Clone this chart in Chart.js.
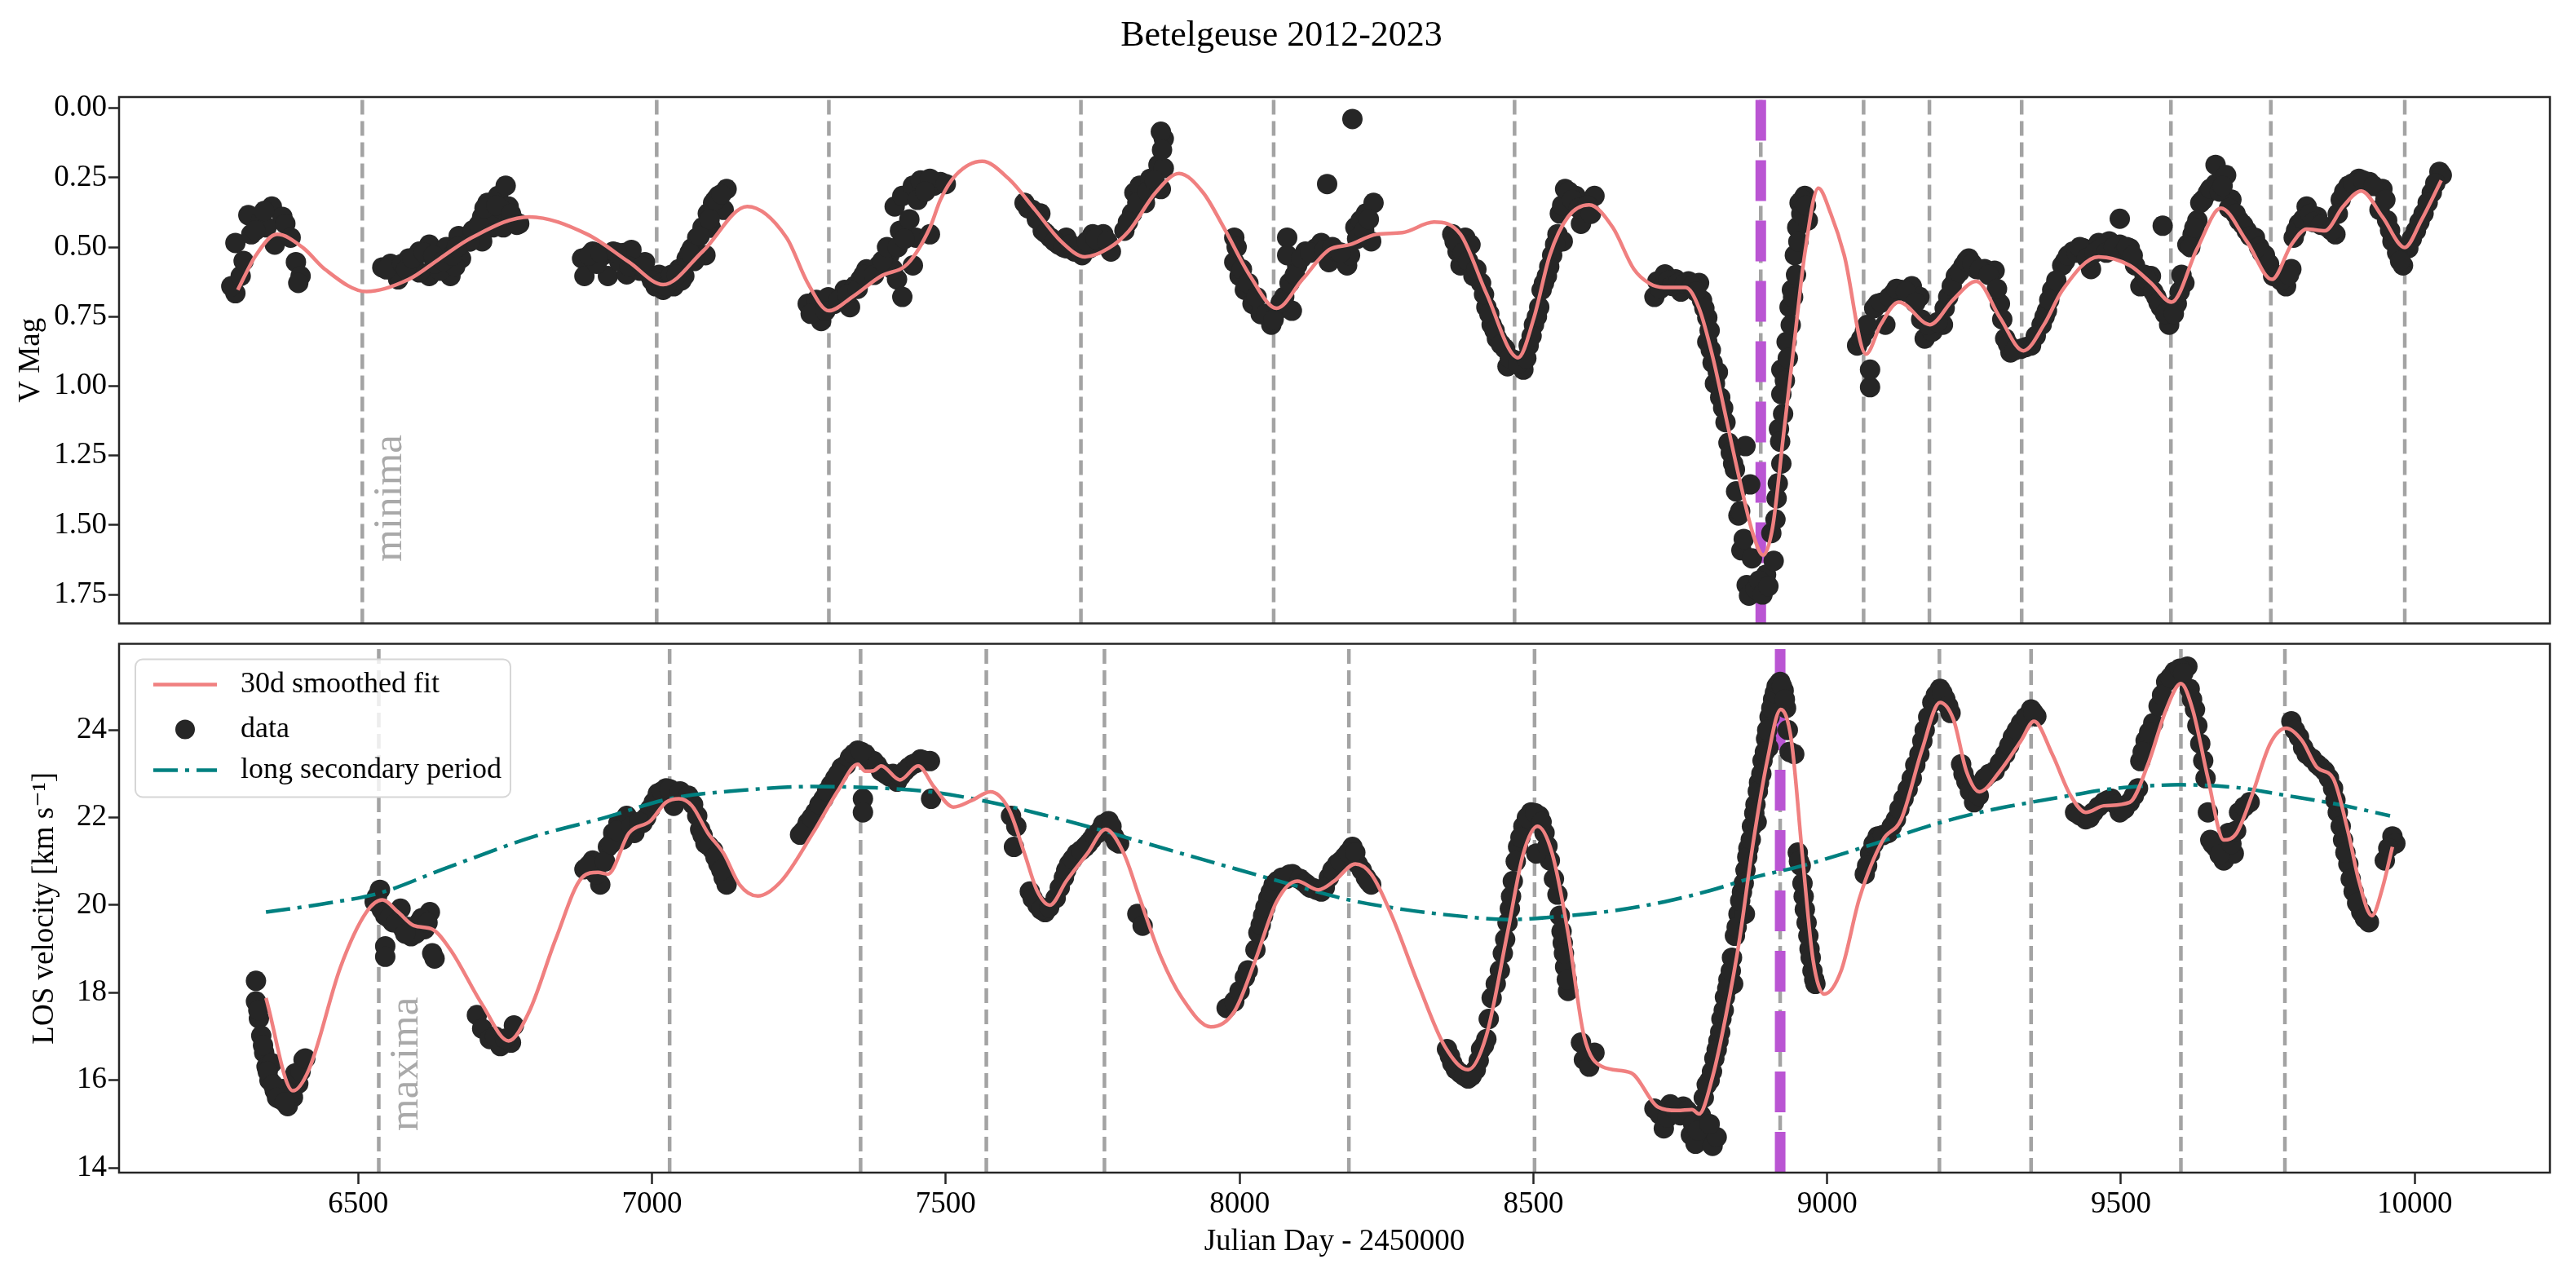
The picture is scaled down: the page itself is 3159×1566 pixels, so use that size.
<!DOCTYPE html>
<html>
<head>
<meta charset="utf-8">
<script src="https://cdn.jsdelivr.net/npm/chart.js@4.4.0/dist/chart.umd.min.js"></script>
<style>
html, body { margin: 0; padding: 0; background: #fff; }
#wrap { position: relative; width: 3159px; height: 1566px; }
canvas { position: absolute; left: 0; }
#top { top: 0; }
#bot { top: 777px; }
</style>
</head>
<body>
<div id="wrap">
  <canvas id="top" width="3159" height="777"></canvas>
  <canvas id="bot" width="3159" height="789"></canvas>
</div>
<script>
// --- valeurs ---
const jdTicks = [6500, 7000, 7500, 8000, 8500, 9000, 9500, 10000];
const magTicks = [0, 0.25, 0.5, 0.75, 1, 1.25, 1.5, 1.75];
const velTicks = [14, 16, 18, 20, 22, 24];

// minima (panneau V) et maxima (panneau vitesse), traits gris
const minimaJD = [6507, 7008, 7301, 7730, 8058, 8468, 8887, 9062, 9174, 9331, 9585, 9755, 9983];
const maximaJD = [6535, 7030, 7355, 7569, 7770, 8186, 8502, 8920, 9191, 9347, 9602, 9779];
const dimmingTop = 8887;
const dimmingBot = 8920;

// courbe lissée 30 j, magnitude V
const vFitJD = [6295, 6326, 6362, 6407, 6443, 6514, 6586, 6639, 6693, 6791, 6890, 6961, 7019, 7086, 7162, 7229, 7265, 7301, 7341, 7390,
  7435, 7473, 7491, 7517, 7562, 7607, 7652, 7696, 7737, 7777, 7812, 7857, 7897, 7938, 7973, 8018, 8063, 8107, 8152, 8188,
  8233, 8277, 8331, 8376, 8420, 8474, 8501, 8528, 8559, 8595, 8635, 8671, 8697, 8722, 8759, 8782, 8805, 8828, 8851, 8874,
  8891, 8907, 8925, 8944, 8962, 8985, 9006, 9029, 9066, 9091, 9122, 9175, 9214, 9254, 9294, 9334, 9369, 9400, 9462, 9515,
  9551, 9586, 9630, 9670, 9714, 9757, 9790, 9816, 9847, 9878, 9909, 9945, 9983, 10011, 10045];
const vFitMag = [0.654, 0.529, 0.454, 0.504, 0.579, 0.66, 0.616, 0.541, 0.466, 0.391, 0.454, 0.554, 0.635, 0.516, 0.354, 0.466, 0.629, 0.729, 0.679, 0.604,
  0.56, 0.43, 0.329, 0.241, 0.191, 0.254, 0.366, 0.479, 0.535, 0.504, 0.441, 0.304, 0.235, 0.304, 0.429, 0.604, 0.72, 0.616, 0.51, 0.491,
  0.454, 0.448, 0.41, 0.454, 0.666, 0.898, 0.754, 0.529, 0.391, 0.348, 0.429, 0.579, 0.63, 0.645, 0.645, 0.72, 0.893, 1.115, 1.337, 1.534,
  1.608, 1.51, 1.189, 0.844, 0.522, 0.288, 0.379, 0.529, 0.885, 0.779, 0.698, 0.779, 0.69, 0.623, 0.754, 0.873, 0.779, 0.656, 0.535, 0.566,
  0.629, 0.698, 0.504, 0.36, 0.479, 0.616, 0.491, 0.435, 0.441, 0.354, 0.298, 0.391, 0.501, 0.404, 0.26];

// mesures, magnitude V
const vObsJD = [6291, 6284, 6300, 6291, 6318, 6313, 6335, 6353, 6371, 6358, 6344, 6376, 6394, 6402, 6398, 6385, 6305, 6325, 6340,
  6541, 6568, 6586, 6604, 6621, 6621, 6639, 6657, 6671, 6675, 6568, 6604, 6639, 6555, 6595, 6630, 6650, 6665,
  6702, 6711, 6720, 6729, 6738, 6751, 6765, 6756, 6747, 6774, 6711, 6690, 6725, 6742,
  6881, 6885, 6899, 6917, 6925, 6934, 6952, 6957, 6970, 6979, 6988, 6997, 7006, 7019, 7028, 7037, 7046, 7059, 7068, 7077,
  7086, 7095, 7104, 7113, 7127, 7122, 7091, 7055, 6906, 6944, 6965, 7012, 7050, 7072, 7100,
  7265, 7288, 7288, 7310, 7328, 7337, 7355, 7372, 7386, 7404, 7417, 7426, 7422, 7413, 7426, 7444, 7457, 7449, 7444, 7480,
  7280, 7300, 7345, 7365, 7395, 7410,
  7473, 7491, 7473, 7500,
  7634, 7647, 7661, 7665, 7678, 7692, 7705, 7719, 7732, 7745, 7759, 7768, 7781, 7705, 7750,
  7804, 7817, 7821, 7830, 7839, 7848, 7862, 7866, 7871, 7866, 7871,
  7991, 7991, 8000, 8009, 8022, 8036, 8054, 8063, 8076, 8089, 8085, 8098, 8081, 8081, 8112, 8130, 8139, 8152, 8165, 8183,
  8188, 8197, 8206, 8215, 8228, 8224,
  8192, 8149,
  8362, 8371, 8376, 8384, 8393, 8398, 8411, 8420, 8429, 8438, 8452, 8465, 8483, 8492, 8501, 8510, 8514, 8523, 8532, 8541,
  8545, 8554, 8572, 8586, 8581, 8604, 8550, 8456,
  8706, 8711, 8724, 8742, 8751, 8764, 8782, 8787, 8796, 8796, 8805, 8809, 8818, 8823, 8832, 8840, 8845, 8849, 8854, 8863, 8867,
  8869, 8861, 8878, 8896, 8909, 8905, 8914, 8922, 8918, 8922, 8922, 8931, 8936, 8940, 8945, 8949, 8953, 8962, 8967,
  9051, 9064, 9073, 9073, 9086, 9099, 9113, 9126, 9144, 9157, 9166, 9179, 9197, 9206, 9219, 9232, 9241, 9254, 9268, 9285,
  9294, 9303, 9312, 9330, 9347, 9365, 9374, 9383,
  9400, 9418, 9436, 9449, 9462, 9480, 9498, 9515, 9524, 9533, 9551, 9560, 9568, 9582, 9595, 9608, 9613, 9622, 9630, 9635,
  9648, 9661, 9661, 9679, 9688, 9701, 9714, 9728, 9745, 9759, 9781, 9790, 9794, 9803, 9816, 9834, 9852, 9865, 9874, 9887,
  9905, 9923, 9945, 9940, 9953, 9962, 9980, 9989, 10002, 10015, 10029, 10042, 10046,
  9498, 9571,
  7270, 7295, 7318, 7332, 7350, 7360, 7378, 7392, 7400, 7418, 7430, 7438, 7452, 7465,
  7640, 7655, 7670, 7685, 7700, 7712, 7725, 7740, 7755, 7775,
  7810, 7826, 7843, 7855, 7868,
  7995, 8004, 8015, 8029, 8045, 8058, 8070, 8094, 8105, 8120, 8145, 8158, 8172, 8200, 8212, 8220,
  8366, 8380, 8389, 8403, 8416, 8425, 8434, 8445, 8460, 8474, 8488, 8497, 8506, 8518, 8527, 8537, 8549, 8560, 8566, 8577, 8592, 8598,
  8716, 8730, 8736, 8746, 8758, 8770, 8777, 8791, 8800, 8802, 8814, 8827, 8836, 8843, 8852, 8858, 8872, 8884, 8890, 8900,
  8912, 8916, 8920, 8925, 8928, 8933, 8938, 8942, 8947, 8951, 8956, 8958, 8964,
  9058, 9068, 9080, 9092, 9106, 9118, 9134, 9150, 9160, 9172, 9188, 9200, 9212, 9225, 9237, 9247, 9260, 9275, 9289, 9298,
  9308, 9320, 9338, 9355, 9370, 9378, 9390,
  9405, 9410, 9425, 9430, 9442, 9455, 9468, 9475, 9488, 9505, 9510, 9520, 9540, 9545, 9555, 9564, 9575, 9590, 9600, 9603,
  9618, 9625, 9640, 9652, 9668, 9673, 9684, 9695, 9708, 9720, 9735, 9740, 9752, 9765, 9772,
  9786, 9798, 9810, 9822, 9828, 9840, 9858, 9869, 9880, 9895, 9912, 9930, 9950, 9958, 9970, 9975, 9995, 10008, 10022, 10035,
  6893, 6912, 6940, 6962, 6983, 7000, 7015, 7024, 7033, 7042, 7064, 7081, 7098, 7108, 7118,
  6548, 6575, 6582, 6592, 6612, 6628, 6645, 6660, 6668,
  6695, 6705, 6715, 6735, 6760, 6770];
const vObsMag = [0.666, 0.641, 0.604, 0.485, 0.454, 0.385, 0.404, 0.354, 0.391, 0.491, 0.429, 0.416, 0.554, 0.604, 0.629, 0.466, 0.55, 0.44, 0.37,
  0.573, 0.579, 0.541, 0.516, 0.491, 0.604, 0.529, 0.604, 0.46, 0.541, 0.616, 0.591, 0.585, 0.56, 0.57, 0.56, 0.5, 0.57,
  0.466, 0.391, 0.341, 0.429, 0.316, 0.279, 0.404, 0.354, 0.429, 0.416, 0.479, 0.48, 0.38, 0.36,
  0.541, 0.604, 0.516, 0.529, 0.604, 0.516, 0.521, 0.598, 0.554, 0.585, 0.554, 0.604, 0.641, 0.654, 0.616, 0.641, 0.579, 0.541, 0.504, 0.466,
  0.429, 0.379, 0.341, 0.316, 0.291, 0.366, 0.529, 0.604, 0.56, 0.55, 0.51, 0.6, 0.62, 0.55, 0.43,
  0.704, 0.766, 0.716, 0.704, 0.654, 0.716, 0.616, 0.591, 0.566, 0.529, 0.616, 0.679, 0.441, 0.354, 0.316, 0.279, 0.26, 0.466, 0.566, 0.279,
  0.69, 0.68, 0.64, 0.58, 0.56, 0.58,
  0.454, 0.266, 0.254, 0.273,
  0.341, 0.366, 0.379, 0.441, 0.466, 0.491, 0.504, 0.516, 0.529, 0.504, 0.491, 0.454, 0.516, 0.466, 0.454,
  0.441, 0.379, 0.304, 0.279, 0.341, 0.254, 0.204, 0.291, 0.11, 0.085, 0.216,
  0.466, 0.554, 0.604, 0.654, 0.704, 0.741, 0.779, 0.729, 0.679, 0.729, 0.629, 0.566, 0.466, 0.529, 0.516, 0.504, 0.485, 0.554, 0.516, 0.566,
  0.529, 0.429, 0.404, 0.379, 0.341, 0.479,
  0.039, 0.273,
  0.454, 0.516, 0.566, 0.466, 0.491, 0.604, 0.629, 0.716, 0.779, 0.829, 0.866, 0.904, 0.941, 0.854, 0.779, 0.716, 0.654, 0.604, 0.529, 0.454,
  0.379, 0.291, 0.316, 0.379, 0.416, 0.316, 0.479, 0.929,
  0.679, 0.623, 0.598, 0.616, 0.66, 0.623, 0.629, 0.691, 0.754, 0.841, 0.916, 0.991, 1.041, 1.079, 1.204, 1.279, 1.379, 1.466, 1.591, 1.716, 1.754,
  1.354, 1.216, 1.729, 1.679, 1.629, 1.529, 1.404, 1.279, 1.154, 1.029, 0.941, 0.841, 0.716, 0.654, 0.529, 0.429, 0.341, 0.316, 0.404,
  0.854, 0.804, 1.004, 0.941, 0.704, 0.779, 0.666, 0.654, 0.641, 0.679, 0.829, 0.804, 0.779, 0.679, 0.604, 0.566, 0.541, 0.579, 0.579, 0.585,
  0.704, 0.829, 0.879, 0.866, 0.854, 0.779, 0.729, 0.654,
  0.566, 0.516, 0.504, 0.579, 0.485, 0.479, 0.491, 0.504, 0.566, 0.641, 0.604, 0.679, 0.716, 0.779, 0.704, 0.629, 0.491, 0.454, 0.404, 0.341,
  0.304, 0.273, 0.204, 0.241, 0.329, 0.404, 0.441, 0.466, 0.529, 0.604, 0.641, 0.579, 0.466, 0.416, 0.354, 0.391, 0.429, 0.454, 0.329, 0.279,
  0.254, 0.266, 0.291, 0.366, 0.404, 0.479, 0.566, 0.504, 0.441, 0.379, 0.304, 0.229, 0.241,
  0.398, 0.423,
  0.74, 0.73, 0.69, 0.67, 0.65, 0.6, 0.6, 0.55, 0.5, 0.5, 0.47, 0.4, 0.33, 0.3,
  0.36, 0.4, 0.45, 0.48, 0.5, 0.49, 0.5, 0.48, 0.47, 0.48,
  0.41, 0.34, 0.3, 0.26, 0.15,
  0.5, 0.58, 0.63, 0.68, 0.74, 0.76, 0.7, 0.6, 0.54, 0.52, 0.51, 0.5, 0.52, 0.47, 0.44, 0.4,
  0.48, 0.52, 0.55, 0.58, 0.67, 0.74, 0.8, 0.85, 0.9, 0.92, 0.9, 0.82, 0.75, 0.63, 0.57, 0.49, 0.35, 0.3, 0.33, 0.36, 0.35, 0.38,
  0.65, 0.62, 0.64, 0.63, 0.63, 0.64, 0.66, 0.72, 0.8, 0.87, 0.95, 1.13, 1.24, 1.3, 1.45, 1.55, 1.62, 1.7, 1.75, 1.72,
  1.48, 1.35, 1.2, 1.1, 0.98, 0.9, 0.78, 0.68, 0.6, 0.48, 0.38, 0.33, 0.35,
  0.83, 0.78, 0.72, 0.7, 0.68, 0.65, 0.66, 0.7, 0.76, 0.78, 0.77, 0.72, 0.64, 0.59, 0.55, 0.56, 0.58, 0.6, 0.65, 0.76,
  0.85, 0.87, 0.86, 0.82, 0.75, 0.69, 0.62,
  0.55, 0.53, 0.52, 0.5, 0.54, 0.52, 0.5, 0.52, 0.5, 0.52, 0.5, 0.53, 0.6, 0.62, 0.66, 0.7, 0.74, 0.74, 0.66, 0.6,
  0.5, 0.43, 0.33, 0.29, 0.3, 0.28, 0.36, 0.38, 0.42, 0.46, 0.5, 0.52, 0.56, 0.6, 0.62,
  0.6, 0.44, 0.4, 0.38, 0.41, 0.42, 0.44, 0.38, 0.3, 0.27, 0.26, 0.28, 0.33, 0.44, 0.52, 0.55, 0.47, 0.41, 0.34, 0.27,
  0.53, 0.52, 0.52, 0.57, 0.57, 0.62, 0.63, 0.64, 0.6, 0.6, 0.52, 0.46, 0.4, 0.33, 0.31,
  0.58, 0.56, 0.58, 0.54, 0.52, 0.53, 0.55, 0.53, 0.5,
  0.44, 0.42, 0.36, 0.35, 0.38, 0.42];

// courbe lissée 30 j, vitesse radiale
const rvFitJD = [6343, 6389, 6416, 6470, 6514, 6541, 6568, 6595, 6626, 6657, 6711, 6756, 6791, 6836, 6881, 6908, 6925, 6961, 6997, 7024,
  7046, 7068, 7095, 7122, 7149, 7180, 7220, 7274, 7319, 7350, 7363, 7377, 7390, 7422, 7453, 7480, 7513, 7544, 7576, 7607,
  7634, 7656, 7677, 7705, 7741, 7772, 7803, 7830, 7866, 7902, 7951, 7991, 8027, 8063, 8098, 8134, 8161, 8197, 8224, 8259,
  8304, 8349, 8389, 8420, 8456, 8483, 8507, 8532, 8559, 8586, 8617, 8666, 8712, 8745, 8770, 8782, 8805, 8828, 8851, 8874,
  8898, 8921, 8939, 8958, 8976, 8995, 9024, 9055, 9095, 9126, 9161, 9192, 9215, 9237, 9259, 9294, 9330, 9352, 9383, 9414,
  9440, 9471, 9515, 9546, 9577, 9602, 9622, 9648, 9675, 9697, 9723, 9754, 9781, 9808, 9834, 9861, 9887, 9905, 9927, 9945, 9962];
const rvFitV = [17.88, 15.76, 16.24, 18.59, 19.84, 20.12, 19.84, 19.53, 19.45, 18.98, 17.73, 16.9, 17.57, 19.22, 20.63, 20.75, 20.71, 21.65, 21.92, 22.35,
  22.43, 22.27, 21.65, 21.18, 20.47, 20.21, 20.55, 21.65, 22.67, 23.22, 23.06, 23.07, 23.18, 22.86, 23.18, 22.7, 22.24, 22.39, 22.59, 22.2,
  21.18, 20.31, 20.0, 20.55, 21.18, 21.73, 21.18, 20.16, 18.82, 17.88, 17.22, 17.57, 18.75, 20.08, 20.55, 20.35, 20.55, 20.94, 20.71, 19.76,
  18.2, 16.78, 16.24, 17.02, 19.37, 21.18, 21.8, 21.18, 19.37, 17.02, 16.31, 16.17, 15.39, 15.31, 15.33, 15.23, 16.08, 17.5, 19.23, 21.42,
  23.3, 24.47, 23.77, 21.11, 18.75, 17.97, 18.51, 20.16, 21.49, 21.96, 23.53, 24.63, 24.24, 23.06, 22.59, 23.06, 23.76, 24.2, 23.45, 22.51,
  22.12, 22.27, 22.35, 23.22, 24.47, 25.06, 24.47, 22.9, 21.49, 21.65, 22.51, 23.69, 24.04, 23.76, 23.14, 22.9, 21.65, 20.55, 19.76, 20.39, 21.33];

// mesures, vitesse radiale
const rvObsJD = [6326, 6326, 6331, 6335, 6340, 6344, 6349, 6358, 6367, 6380, 6389, 6398, 6407, 6393, 6353, 6372, 6385,
  6528, 6537, 6546, 6546, 6546, 6559, 6572, 6577, 6590, 6604, 6622, 6626, 6630, 6613, 6585, 6598,
  6702, 6711, 6724, 6742, 6760, 6765, 6733, 6750,
  6885, 6899, 6912, 6925, 6934, 6943, 6957, 6970, 6984, 6997, 7010, 7024, 7042, 7055, 7037, 7077, 7082, 7091, 7104, 7113,
  7122, 7127, 6905, 6950, 6990,
  7252, 7265, 7278, 7292, 7305, 7323, 7337, 7350, 7363, 7377, 7390, 7404, 7417, 7430, 7444, 7457, 7359, 7359, 7475, 7330,
  7370, 7410, 7473,
  7611, 7620, 7616,
  7643, 7656, 7669, 7687, 7701, 7710, 7723, 7737, 7759, 7777, 7786, 7795, 7748, 7768,
  7826, 7835,
  7978, 7991, 8000, 8009, 8014,
  8027, 8032, 8040, 8049, 8058, 8072, 8090, 8107, 8125, 8139, 8152, 8166, 8179, 8192, 8201, 8215, 8224, 8080, 8098, 8116,
  8353, 8362, 8376, 8389, 8402, 8411, 8420,
  8429, 8443, 8452, 8460, 8465, 8474, 8483, 8496, 8510, 8519, 8528, 8541, 8545, 8550, 8554, 8559, 8505,
  8581, 8586, 8595, 8604,
  8706, 8715, 8722, 8733, 8745, 8755, 8768, 8776, 8785, 8795, 8805, 8812, 8790, 8800, 8808, 8815, 8820, 8826, 8832, 8838,
  8843, 8849, 8855, 8861, 8866, 8872, 8878, 8884, 8890, 8896, 8902, 8908, 8914, 8920, 8926, 8930, 8936, 8944, 8950, 8955,
  8960, 8965, 8970, 8975, 8980, 8840, 8860, 8880, 8900,
  9064, 9073, 9086, 9104, 9117, 9130, 9144, 9157, 9166, 9179, 9192, 9201, 9210,
  9228, 9237, 9250, 9268, 9285, 9303, 9316, 9330, 9347, 9356,
  9422, 9440, 9453, 9471, 9484, 9498, 9515, 9529, 9533, 9542, 9555,
  9564, 9577, 9591, 9613, 9617, 9626, 9635, 9644, 9648,
  9652, 9661, 9675, 9692, 9701, 9719, 9683,
  9790, 9803, 9816, 9834, 9847, 9861, 9869, 9878, 9887, 9896, 9909, 9922, 9949, 9962, 9967,
  6330, 6338, 6346, 6355, 6362, 6375, 6402, 6410,
  6532, 6540, 6553, 6565, 6580, 6608, 6618,
  6892, 6920, 6930, 6940, 6965, 6978, 7003, 7017, 7030, 7048, 7062, 7070, 7086, 7097, 7108, 7118,
  7258, 7272, 7285, 7298, 7312, 7317, 7343, 7356, 7383, 7397, 7423, 7437, 7450, 7463,
  7648, 7662, 7676, 7694, 7705, 7716, 7730, 7742, 7753, 7765, 7782, 7790,
  8036, 8044, 8053, 8064, 8085, 8103, 8112, 8120, 8131, 8145, 8158, 8172, 8185, 8197, 8208, 8219,
  8358, 8368, 8382, 8395, 8407, 8416, 8424, 8436, 8448, 8456, 8462, 8470, 8478, 8489, 8503, 8514, 8524, 8535, 8548, 8552, 8557,
  8712, 8728, 8740, 8750, 8762, 8772, 8780, 8800, 8795, 8804, 8812, 8818, 8824, 8830, 8836, 8846, 8852, 8858, 8864, 8870,
  8876, 8882, 8888, 8894, 8898, 8905, 8911, 8917, 8923, 8928, 8933, 8952, 8958, 8962, 8968, 8972, 8978,
  9068, 9079, 9095, 9110, 9123, 9137, 9150, 9162, 9172, 9185, 9196, 9206,
  9232, 9243, 9258, 9276, 9294, 9310, 9323, 9338, 9351,
  9430, 9447, 9462, 9478, 9491, 9506, 9522, 9537, 9548,
  9570, 9584, 9600, 9606, 9621, 9630, 9640,
  9656, 9668, 9688, 9696, 9710,
  9796, 9810, 9825, 9840, 9854, 9865, 9874, 9882, 9891, 9902, 9915, 9955];
const rvObsV = [18.27, 17.8, 17.41, 17.02, 16.63, 16.31, 16.0, 15.76, 15.57, 15.41, 15.61, 15.92, 16.47, 16.16, 16.39, 15.8, 15.7,
  20.08, 20.35, 19.76, 19.06, 18.82, 19.61, 19.92, 19.45, 19.29, 19.61, 19.84, 18.9, 18.78, 19.45, 19.5, 19.35,
  17.49, 17.18, 16.94, 16.78, 16.86, 17.25, 17.0, 16.95,
  20.82, 21.02, 20.47, 21.33, 21.65, 21.88, 22.04, 21.65, 21.88, 22.2, 22.55, 22.67, 22.59, 22.51, 22.27, 22.04, 21.73, 21.41, 21.25, 20.94,
  20.63, 20.47, 20.7, 21.5, 22.0,
  21.61, 21.88, 22.12, 22.43, 22.75, 23.14, 23.37, 23.53, 23.45, 23.29, 23.06, 22.94, 22.82, 23.06, 23.22, 23.33, 22.43, 22.12, 22.43, 23.2,
  23.3, 23.0, 23.29,
  22.04, 21.8, 21.33,
  20.31, 20.0, 19.84, 20.16, 20.63, 20.94, 21.18, 21.33, 21.65, 21.92, 21.57, 21.41, 21.5, 21.85,
  19.8, 19.53,
  17.65, 17.8, 18.04, 18.35, 18.51,
  18.98, 19.37, 19.76, 20.16, 20.47, 20.63, 20.71, 20.55, 20.39, 20.31, 20.63, 20.94, 21.1, 21.33, 20.94, 20.63, 20.47, 20.6, 20.62, 20.45,
  16.71, 16.39, 16.16, 16.04, 16.24, 16.71, 16.94,
  17.88, 18.51, 19.22, 19.92, 20.55, 21.33, 21.8, 22.12, 22.04, 21.65, 21.02, 20.24, 19.76, 19.14, 18.59, 18.04, 21.18,
  16.86, 16.47, 16.31, 16.63,
  15.35, 15.22, 14.9, 15.45, 15.25, 15.4, 14.75, 14.55, 15.2, 14.85, 14.5, 14.7, 15.6, 16.0, 16.5, 16.9, 17.4, 17.9, 18.3, 18.8,
  19.3, 19.8, 20.3, 20.8, 21.3, 21.8, 22.3, 22.8, 23.3, 23.8, 24.3, 24.7, 25.0, 25.1, 24.9, 24.5, 23.5, 23.45, 21.2, 20.9,
  20.2, 19.6, 19.0, 18.5, 18.2, 18.2, 19.8, 21.9, 23.6,
  20.71, 21.18, 21.57, 21.65, 21.96, 22.43, 22.9, 23.45, 24.0, 24.63, 24.94, 24.71, 24.39,
  23.22, 22.82, 22.35, 22.9, 23.06, 23.45, 23.84, 24.16, 24.47, 24.31,
  22.12, 21.96, 22.12, 22.35, 22.43, 22.12, 22.35, 22.67, 23.29, 23.76, 24.16,
  24.55, 25.1, 25.33, 25.45, 24.94, 24.47, 23.69, 22.9, 22.12,
  21.49, 21.33, 21.02, 21.18, 22.12, 22.35, 21.65,
  24.2, 23.84, 23.45, 23.22, 23.06, 22.67, 22.12, 21.49, 20.94, 20.31, 19.84, 19.61, 21.02, 21.57, 21.41,
  17.6, 16.8, 16.2, 15.9, 15.6, 15.5, 16.2, 16.5,
  20.2, 19.9, 19.7, 19.6, 19.35, 19.7, 19.6,
  20.9, 21.0, 21.4, 21.7, 21.8, 21.9, 22.35, 22.6, 22.65, 22.6, 22.5, 22.3, 21.6, 21.35, 21.1, 20.8,
  21.7, 22.0, 22.3, 22.6, 22.9, 23.0, 23.45, 23.5, 23.2, 23.0, 22.95, 23.15, 23.25, 23.3,
  20.15, 19.9, 19.95, 20.4, 20.8, 21.05, 21.25, 21.4, 21.6, 21.75, 21.8, 21.45,
  19.55, 19.95, 20.3, 20.55, 20.7, 20.6, 20.5, 20.4, 20.35, 20.4, 20.8, 21.0, 21.2, 21.2, 20.8, 20.55,
  16.55, 16.25, 16.1, 16.1, 16.45, 16.8, 17.4, 18.2, 18.9, 19.6, 20.2, 21.0, 21.55, 22.0, 22.1, 21.9, 21.35, 20.6, 19.4, 18.9, 18.3,
  15.3, 15.15, 15.35, 15.2, 15.3, 15.0, 14.85, 15.0, 15.9, 16.2, 16.7, 17.1, 17.6, 18.1, 18.5, 19.5, 20.1, 20.5, 21.1, 21.5,
  22.1, 22.6, 23.0, 23.5, 24.0, 24.5, 24.85, 25.05, 25.0, 24.7, 24.0, 21.0, 20.5, 19.9, 19.3, 18.8, 18.3,
  20.9, 21.4, 21.6, 21.8, 22.2, 22.65, 23.2, 23.75, 24.3, 24.8, 24.85, 24.55,
  23.0, 22.6, 22.5, 23.0, 23.25, 23.65, 24.0, 24.3, 24.4,
  22.05, 22.0, 22.25, 22.4, 22.3, 22.2, 22.5, 23.5, 23.95,
  24.8, 25.2, 25.4, 25.3, 24.7, 24.1, 23.3,
  21.4, 21.15, 21.4, 21.7, 22.25,
  24.0, 23.6, 23.35, 23.15, 22.9, 22.4, 21.8, 21.2, 20.6, 20.05, 19.7, 21.3];

// période secondaire longue
const lspJD = [6343, 6450, 6535, 6650, 6800, 6920, 7030, 7150, 7274, 7380, 7473, 7569, 7670, 7770, 7870, 7964, 8080, 8186, 8280, 8367,
  8456, 8545, 8640, 8724, 8800, 8874, 8958, 9080, 9191, 9270, 9347, 9420, 9480, 9540, 9602, 9701, 9779, 9870, 9958];
const lspV = [19.84, 20.05, 20.27, 20.85, 21.57, 22.0, 22.43, 22.62, 22.71, 22.68, 22.59, 22.37, 22.05, 21.69, 21.3, 20.94, 20.5, 20.12, 19.9, 19.76,
  19.67, 19.74, 19.88, 20.08, 20.33, 20.63, 20.9, 21.4, 21.88, 22.15, 22.35, 22.52, 22.65, 22.72, 22.75, 22.68, 22.51, 22.3, 22.04];

// --- styles ---
const FONT = "'Liberation Serif', 'DejaVu Serif', serif";
const X_MIN = 6093, X_MAX = 10230;
const PINK = '#f08080', DOT = '#262626', TEAL = '#008080', PURPLE = '#ba55d3', DASH = '#a3a3a3', INK = '#262626';

Chart.defaults.font.family = FONT;
Chart.defaults.color = '#000';

const pts = (xs, ys) => xs.map((x, i) => ({ x: x, y: ys[i] }));

// cadre noir autour de la zone de tracé
const frame = {
  id: 'frame',
  afterDraw(chart) {
    const { ctx, chartArea: a } = chart;
    ctx.save();
    ctx.strokeStyle = INK;
    ctx.lineWidth = 2.5;
    ctx.strokeRect(a.left, a.top, a.right - a.left, a.bottom - a.top);
    ctx.restore();
  }
};

// traits verticaux (gris) + grand minimum (violet)
const vlines = {
  id: 'vlines',
  beforeDatasetsDraw(chart, args, opts) {
    const { ctx, chartArea: a, scales: { x } } = chart;
    ctx.save();
    ctx.beginPath();
    ctx.rect(a.left, a.top, a.right - a.left, a.bottom - a.top);
    ctx.clip();
    const draw = (v, color, width, dash) => {
      const px = x.getPixelForValue(v);
      ctx.strokeStyle = color;
      ctx.lineWidth = width;
      ctx.setLineDash(dash);
      ctx.beginPath();
      ctx.moveTo(px, a.bottom);
      ctx.lineTo(px, a.top);
      ctx.stroke();
    };
    opts.lines.forEach(v => draw(v, DASH, 4.5, [18, 8]));
    draw(opts.event, PURPLE, 13, [50, 24]);
    ctx.restore();
  }
};

// texte vertical "minima" / "maxima"
const sideNote = {
  id: 'sideNote',
  beforeDatasetsDraw(chart, args, opts) {
    const { ctx, scales: { x, y } } = chart;
    ctx.save();
    ctx.translate(x.getPixelForValue(opts.at[0]), y.getPixelForValue(opts.at[1]));
    ctx.rotate(-Math.PI / 2);
    ctx.font = '51px ' + FONT;
    ctx.fillStyle = '#a9a9a9';
    ctx.textAlign = 'left';
    ctx.textBaseline = 'middle';
    ctx.fillText(opts.text, 0, 0);
    ctx.restore();
  }
};

// légende encadrée en haut à gauche du panneau du bas
const legendBox = {
  id: 'legendBox',
  afterDatasetsDraw(chart) {
    const { ctx, chartArea: a } = chart;
    const L = a.left + 20, T = a.top + 19, W = 460, H = 169;
    ctx.save();
    ctx.beginPath();
    ctx.roundRect(L, T, W, H, 9);
    ctx.fillStyle = 'rgba(255,255,255,0.8)';
    ctx.fill();
    ctx.strokeStyle = '#d6d6d6';
    ctx.lineWidth = 2;
    ctx.stroke();
    const rows = [T + 31, T + 86, T + 136];
    const x0 = L + 22, x1 = L + 100;
    chart.data.datasets.forEach((ds, i) => {
      const y = rows[i];
      if (ds.pointRadius > 0) {
        ctx.fillStyle = ds.backgroundColor;
        ctx.beginPath();
        ctx.arc((x0 + x1) / 2, y, 12, 0, Math.PI * 2);
        ctx.fill();
      } else {
        ctx.strokeStyle = ds.borderColor;
        ctx.lineWidth = ds.borderWidth;
        ctx.setLineDash(ds.borderDash || []);
        ctx.beginPath();
        ctx.moveTo(x0, y);
        ctx.lineTo(x1, y);
        ctx.stroke();
        ctx.setLineDash([]);
      }
      ctx.fillStyle = '#000';
      ctx.font = '36px ' + FONT;
      ctx.textAlign = 'left';
      ctx.textBaseline = 'middle';
      ctx.fillText(ds.label, L + 129, y);
    });
    ctx.restore();
  }
};

function yAxis(ticksArr, fmt, title, min, max, reverse, titlePad) {
  return {
    type: 'linear', position: 'left', min: min, max: max, reverse: reverse,
    afterBuildTicks: s => { s.ticks = ticksArr.map(v => ({ value: v })); },
    afterFit: s => { s.width = 130; s.paddingTop = 0; s.paddingBottom = 0; },
    ticks: { callback: fmt, font: { size: 37 }, padding: 2, color: '#000', autoSkip: false },
    grid: { drawOnChartArea: false, tickLength: 13, tickWidth: 2.5, tickColor: INK },
    border: { display: false },
    title: { display: true, text: title, color: '#000', font: { size: 37 }, padding: { top: titlePad, bottom: 0 } }
  };
}

const common = {
  responsive: false,
  animation: false,
  devicePixelRatio: 1,
  events: [],
  layout: { padding: { left: 16, right: 32, top: 0, bottom: 0 } }
};

// panneau du haut : magnitude V
new Chart(document.getElementById('top'), {
  type: 'scatter',
  data: {
    datasets: [
      { type: 'line', label: '30d smoothed fit', data: pts(vFitJD, vFitMag), borderColor: PINK, borderWidth: 4.5,
        pointRadius: 0, fill: false, cubicInterpolationMode: 'monotone', order: 0 },
      { label: 'data', data: pts(vObsJD, vObsMag), backgroundColor: DOT, borderWidth: 0, pointRadius: 12.5, order: 2 }
    ]
  },
  options: Object.assign({}, common, {
    plugins: {
      legend: { display: false },
      tooltip: { enabled: false },
      title: { display: true, text: 'Betelgeuse 2012-2023', color: '#000', font: { size: 44, weight: 'normal' },
        padding: { top: 17.6, bottom: 48.6 } },
      vlines: { lines: minimaJD, event: dimmingTop },
      sideNote: { text: 'minima', at: [6554, 1.632] }
    },
    scales: {
      x: { type: 'linear', min: X_MIN, max: X_MAX, display: false },
      y: yAxis(magTicks, v => v.toFixed(2), 'V Mag', -0.04, 1.854, true, 0)
    }
  }),
  plugins: [vlines, sideNote, frame]
});

// panneau du bas : vitesse radiale
new Chart(document.getElementById('bot'), {
  type: 'scatter',
  data: {
    datasets: [
      { type: 'line', label: '30d smoothed fit', data: pts(rvFitJD, rvFitV), borderColor: PINK, borderWidth: 4.5,
        pointRadius: 0, fill: false, cubicInterpolationMode: 'monotone', order: 0 },
      { label: 'data', data: pts(rvObsJD, rvObsV), backgroundColor: DOT, borderWidth: 0, pointRadius: 12.5, order: 2 },
      { type: 'line', label: 'long secondary period', data: pts(lspJD, lspV), borderColor: TEAL, borderWidth: 4.5,
        borderDash: [30, 9, 5, 9], pointRadius: 0, fill: false, cubicInterpolationMode: 'monotone', order: 1 }
    ]
  },
  options: Object.assign({}, common, {
    plugins: {
      legend: { display: false },
      tooltip: { enabled: false },
      vlines: { lines: maximaJD, event: dimmingBot },
      sideNote: { text: 'maxima', at: [6583, 14.84] }
    },
    scales: {
      x: {
        type: 'linear', position: 'bottom', min: X_MIN, max: X_MAX,
        afterBuildTicks: s => { s.ticks = jdTicks.map(v => ({ value: v })); },
        afterFit: s => { s.height = 128; s.paddingLeft = 0; s.paddingRight = 0; },
        ticks: { callback: v => String(v), font: { size: 37 }, padding: 3, maxRotation: 0, autoSkip: false, color: '#000' },
        grid: { drawOnChartArea: false, tickLength: 14, tickWidth: 2.5, tickColor: INK },
        border: { display: false },
        title: { display: true, text: 'Julian Day - 2450000', color: '#000', font: { size: 37 }, padding: { top: 0, bottom: 21 } }
      },
      y: yAxis(velTicks, v => String(v), 'LOS velocity [km s\u207B\u00B9]', 13.89, 25.97, false, 17)
    }
  }),
  plugins: [vlines, sideNote, legendBox, frame]
});
</script>
</body>
</html>
